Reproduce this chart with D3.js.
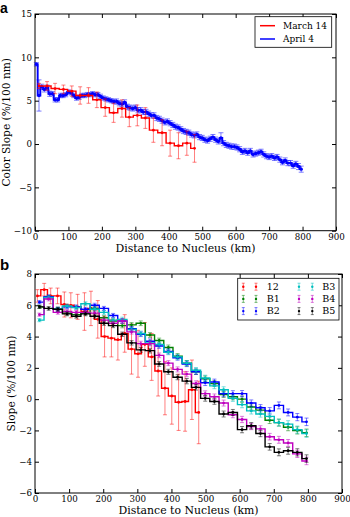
<!DOCTYPE html>
<html>
<head>
<meta charset="utf-8">
<script src="https://cdn.jsdelivr.net/npm/d3@7/dist/d3.min.js"></script>
<style>
  body { margin: 0; background: #fff; }
  svg { display: block; font-family: "DejaVu Serif", serif; }
</style>
</head>
<body>
<div id="fig"></div>
<script>
// ---- panel a : color slope vs distance ----
var marchX = [12, 36, 60, 85, 110, 135, 160, 185, 210, 235, 260, 282, 306, 330, 354, 380, 404, 429, 454, 477];
var marchY = [6.7, 6.7, 6.4, 6.3, 6.1, 5.6, 5.6, 5.1, 4.2, 3.6, 4.1, 3.1, 3.3, 3.0, 1.6, 1.3, 0.1, -0.2, 0.1, -0.5];
var marchErr = [0.3, 0.5, 0.6, 0.5, 0.6, 1.0, 0.9, 0.9, 1.0, 1.1, 1.0, 1.1, 1.2, 1.2, 1.4, 1.5, 1.5, 1.5, 1.4, 1.6];

var aprilX = [4, 12, 20, 28, 36, 44, 52, 60, 68, 76, 84, 92, 100, 108, 116, 124, 132, 140, 148, 156,
  164, 172, 180, 188, 196, 204, 212, 220, 228, 236, 244, 252, 260, 268, 276, 284, 292, 300, 308, 316,
  324, 332, 340, 348, 356, 364, 372, 380, 388, 396, 404, 412, 420, 428, 436, 444, 452, 460, 468, 476,
  484, 492, 500, 508, 516, 524, 532, 540, 548, 556, 564, 572, 580, 588, 596, 604, 612, 620, 628, 636,
  644, 652, 660, 668, 676, 684, 692, 700, 708, 716, 724, 732, 740, 748, 756, 764, 772, 780, 788, 796];
var aprilY = [9.2, 5.6, 6.6, 6.3, 6.5, 5.8, 5.8, 5.1, 5.1, 5.6, 5.6, 5.7, 6.0, 5.9, 5.6, 5.3, 5.4, 5.6, 5.6, 5.7,
  5.7, 5.8, 5.7, 5.7, 5.5, 5.3, 5.2, 5.1, 5.0, 4.9, 4.9, 4.7, 4.6, 4.8, 4.3, 4.2, 4.1, 4.2, 3.9, 3.9,
  3.7, 3.7, 3.5, 3.3, 3.3, 3.0, 2.9, 2.7, 2.5, 2.6, 2.4, 2.2, 2.0, 1.9, 1.7, 1.5, 1.4, 1.3, 1.1, 1.0,
  1.1, 0.8, 0.7, 0.5, 0.4, 0.6, 0.8, 0.5, 0.3, 0.7, 0.1, -0.1, -0.2, -0.3, -0.3, -0.4, -0.6, -0.9, -0.8, -1.0,
  -0.8, -1.2, -1.1, -1.0, -0.9, -1.2, -1.4, -1.5, -1.4, -1.6, -1.5, -1.8, -2.1, -1.9, -2.2, -2.2, -2.5, -2.3, -2.6, -2.9];
var aprilErr = [0.2, 1.8, 0.3, 0.3, 0.3, 0.3, 0.25, 0.25, 0.25, 0.25, 0.25, 0.25, 0.25, 0.25, 0.25, 0.25, 0.25, 0.25, 0.25, 0.25,
  0.25, 0.25, 0.25, 0.25, 0.25, 0.25, 0.25, 0.25, 0.25, 0.25, 0.3, 0.3, 0.3, 0.3, 0.3, 0.3, 0.3, 0.3, 0.3, 0.3,
  0.3, 0.3, 0.3, 0.3, 0.3, 0.3, 0.3, 0.3, 0.3, 0.3, 0.3, 0.3, 0.3, 0.3, 0.3, 0.3, 0.3, 0.3, 0.3, 0.3,
  0.3, 0.3, 0.3, 0.3, 0.3, 0.3, 0.3, 0.3, 0.3, 0.6, 0.3, 0.3, 0.3, 0.3, 0.3, 0.3, 0.3, 0.3, 0.3, 0.3,
  0.3, 0.3, 0.3, 0.3, 0.3, 0.3, 0.3, 0.3, 0.3, 0.3, 0.3, 0.3, 0.3, 0.3, 0.3, 0.3, 0.3, 0.3, 0.35, 0.35];

// ---- panel b : slope per filter ----
var x12 = [7, 27, 46, 66, 86, 105, 125, 145, 164, 184, 204, 224, 243, 263, 283, 302, 322, 342, 361, 381, 401, 421, 440, 460, 480];
var y12 = [6.6, 7.0, 6.6, 6.6, 6.05, 6.0, 5.9, 5.6, 5.8, 5.1, 4.0, 3.9, 3.8, 4.2, 3.2, 2.9, 3.5, 2.7, 1.8, 0.7, 0.2, -0.2, -0.15, 0.6, -0.85];
var e12 = [0.4, 0.4, 0.5, 0.5, 0.8, 0.8, 0.8, 1.2, 1.1, 1.2, 1.3, 1.2, 1.3, 1.2, 1.6, 1.5, 1.4, 1.5, 1.6, 1.7, 1.8, 1.8, 1.9, 1.9, 2.0];

var bX = [13, 40, 67, 94, 121, 148, 175, 202, 229, 256, 283, 310, 337, 364, 391, 418, 445, 472, 499, 526, 553, 580, 607, 634, 661, 688, 715, 742, 769, 796];
var b1 = [5.9, 6.5, 5.75, 5.5, 5.4, 5.5, 5.8, 5.2, 5.0, 4.7, 4.75, 4.85, 4.1, 3.75, 3.3, 2.75, 2.3, 1.75, 1.3, 1.0, 0.3, 0.15, 0.0, -0.5, -0.7, -1.35, -1.5, -1.8, -2.0, -2.15];
var b2 = [6.2, 6.55, 5.75, 5.9, 5.9, 5.75, 6.0, 5.8, 5.35, 5.0, 4.5, 4.15, 3.7, 3.4, 3.05, 2.65, 2.25, 1.75, 1.05, 1.1, 0.35, 0.35, 0.35, -0.25, -0.55, -0.75, -0.4, -0.85, -1.15, -1.45];
var b3 = [5.05, 6.5, 5.75, 5.95, 5.85, 6.1, 5.75, 5.55, 5.05, 5.1, 4.45, 4.2, 3.6, 3.5, 3.0, 2.7, 2.3, 1.85, 1.35, 0.85, 0.6, 0.05, -0.35, -0.75, -0.95, -1.1, -1.5, -1.6, -1.95, -2.2];
var b4 = [5.4, 6.4, 5.55, 5.6, 5.55, 5.55, 5.5, 5.05, 4.85, 5.0, 4.3, 3.55, 3.55, 2.8, 2.3, 1.9, 1.6, 1.0, 0.35, 0.15, -0.25, -1.0, -1.3, -1.75, -1.9, -2.4, -2.6, -2.8, -3.5, -3.95];
var b5 = [5.9, 5.8, 5.75, 5.45, 5.3, 5.45, 5.3, 4.85, 4.7, 4.15, 3.6, 3.15, 3.1, 2.25, 1.75, 1.4, 1.15, 0.75, 0.05, -0.15, -0.95, -0.85, -1.95, -1.7, -2.2, -3.05, -3.4, -3.3, -3.4, -3.8];
var bErr = [0.1, 0.12, 0.12, 0.12, 0.12, 0.12, 0.13, 0.13, 0.13, 0.14, 0.14, 0.15, 0.15, 0.15, 0.16, 0.16, 0.17, 0.17, 0.18, 0.18, 0.19, 0.19, 0.2, 0.2, 0.2, 0.21, 0.22, 0.22, 0.23, 0.24];

var xTicks = [0, 100, 200, 300, 400, 500, 600, 700, 800, 900];
var yTicksA = [-10, -5, 0, 5, 10, 15];
var yTicksB = [-6, -4, -2, 0, 2, 4, 6, 8];

var W = 350, H = 517;
var svg = d3.select('#fig').append('svg').attr('width', W).attr('height', H);

function makePanel(box, yDomain, yTicks, ylabel, ylabelX) {
  var x = d3.scaleLinear().domain([0, 900]).range([box.l, box.r]);
  var y = d3.scaleLinear().domain(yDomain).range([box.b, box.t]);
  var g = svg.append('g');
  var fmt = d3.format('d');

  g.append('g').attr('transform', 'translate(0,' + box.b + ')')
    .call(d3.axisBottom(x).tickValues(xTicks).tickFormat(fmt).tickSizeInner(-4).tickSizeOuter(0).tickPadding(3))
    .call(s => s.select('.domain').remove());
  g.append('g').attr('transform', 'translate(0,' + box.t + ')')
    .call(d3.axisTop(x).tickValues(xTicks).tickFormat('').tickSizeInner(-4).tickSizeOuter(0))
    .call(s => s.select('.domain').remove());
  g.append('g').attr('transform', 'translate(' + box.l + ',0)')
    .call(d3.axisLeft(y).tickValues(yTicks).tickFormat(fmt).tickSizeInner(-4).tickSizeOuter(0).tickPadding(3))
    .call(s => s.select('.domain').remove());
  g.append('g').attr('transform', 'translate(' + box.r + ',0)')
    .call(d3.axisRight(y).tickValues(yTicks).tickFormat('').tickSizeInner(-4).tickSizeOuter(0))
    .call(s => s.select('.domain').remove());
  g.selectAll('.tick text').attr('font-family', '"DejaVu Serif", serif').attr('font-size', 8.7).attr('fill', '#000');
  g.selectAll('.tick line').attr('stroke', '#000');

  g.append('rect').attr('x', box.l).attr('y', box.t)
    .attr('width', box.r - box.l).attr('height', box.b - box.t)
    .attr('fill', 'none').attr('stroke', '#000').attr('stroke-width', 1);

  svg.append('text').attr('x', (box.l + box.r) / 2).attr('y', box.b + 21)
    .attr('text-anchor', 'middle').attr('font-size', 10.9).text('Distance to Nucleus (km)');
  svg.append('text')
    .attr('transform', 'translate(' + ylabelX + ',' + ((box.t + box.b) / 2) + ') rotate(-90)')
    .attr('text-anchor', 'middle').attr('font-size', 10.6).text(ylabel);

  return { x: x, y: y, g: g };
}

function drawSeries(p, xs, ys, es, color, lw, r, cap) {
  var pts = xs.map((d, i) => ({ x: d, y: ys[i], e: es[i] }));
  var g = p.g.append('g');
  var eb = g.append('g').attr('stroke', color).attr('stroke-opacity', 0.5).attr('stroke-width', 1);
  eb.selectAll('line.v').data(pts).join('line').attr('class', 'v')
    .attr('x1', d => p.x(d.x)).attr('x2', d => p.x(d.x))
    .attr('y1', d => p.y(d.y - d.e)).attr('y2', d => p.y(d.y + d.e));
  eb.selectAll('line.c1').data(pts).join('line').attr('class', 'c1')
    .attr('x1', d => p.x(d.x) - cap).attr('x2', d => p.x(d.x) + cap)
    .attr('y1', d => p.y(d.y + d.e)).attr('y2', d => p.y(d.y + d.e));
  eb.selectAll('line.c2').data(pts).join('line').attr('class', 'c2')
    .attr('x1', d => p.x(d.x) - cap).attr('x2', d => p.x(d.x) + cap)
    .attr('y1', d => p.y(d.y - d.e)).attr('y2', d => p.y(d.y - d.e));
  var line = d3.line().x(d => p.x(d.x)).y(d => p.y(d.y)).curve(d3.curveStep);
  g.append('path').datum(pts).attr('d', line)
    .attr('fill', 'none').attr('stroke', color).attr('stroke-width', lw);
  g.selectAll('circle').data(pts).join('circle')
    .attr('cx', d => p.x(d.x)).attr('cy', d => p.y(d.y)).attr('r', r).attr('fill', color);
}

// panel a
var pa = makePanel({ l: 35, r: 336, t: 14, b: 230.7 }, [-10, 15], yTicksA, 'Color Slope (%/100 nm)', 10);
drawSeries(pa, aprilX, aprilY, aprilErr, '#0000ff', 1.9, 1.7, 2.5);
drawSeries(pa, marchX, marchY, marchErr, '#ff0000', 1.4, 1.4, 2);

var la = svg.append('g');
la.append('rect').attr('x', 255).attr('y', 16.7).attr('width', 76.7).attr('height', 30.6)
  .attr('fill', '#fff').attr('stroke', '#000').attr('stroke-width', 0.8);
[['March 14', '#ff0000', 25.7], ['April 4', '#0000ff', 39]].forEach(function (r) {
  la.append('line').attr('x1', 260).attr('x2', 275).attr('y1', r[2]).attr('y2', r[2])
    .attr('stroke', r[1]).attr('stroke-width', 1.5);
  la.append('text').attr('x', 283).attr('y', r[2] + 3.2).attr('font-size', 9).text(r[0]);
});

// panel b
var pb = makePanel({ l: 35, r: 342, t: 274, b: 493 }, [-6, 8], yTicksB, 'Slope (%/100 nm)', 15);
drawSeries(pb, x12, y12, e12, '#ff0000', 1.4, 1.4, 2);
drawSeries(pb, bX, b1, bErr, '#008000', 1.4, 1.4, 2);
drawSeries(pb, bX, b2, bErr, '#0000ff', 1.4, 1.4, 2);
drawSeries(pb, bX, b3, bErr, '#00bfbf', 1.4, 1.4, 2);
drawSeries(pb, bX, b4, bErr, '#bf00bf', 1.4, 1.4, 2);
drawSeries(pb, bX, b5, bErr, '#000000', 1.4, 1.4, 2);

var legNames = ['12', 'B1', 'B2', 'B3', 'B4', 'B5'];
var legColors = ['#ff0000', '#008000', '#0000ff', '#00bfbf', '#bf00bf', '#000000'];
var lb = svg.append('g');
lb.append('rect').attr('x', 237.7).attr('y', 278.3).attr('width', 101.3).attr('height', 41.7)
  .attr('fill', '#fff').attr('stroke', '#000').attr('stroke-width', 0.8);
legNames.forEach(function (name, i) {
  var col = Math.floor(i / 3), row = i % 3;
  var cy = 286.7 + row * 12.2;
  var xs = col === 0 ? [243.3, 256] : [299, 312.3];
  var tx = col === 0 ? 266.7 : 322.3;
  xs.forEach(function (sx) {
    lb.append('line').attr('x1', sx).attr('x2', sx).attr('y1', cy - 3.5).attr('y2', cy + 3.5)
      .attr('stroke', legColors[i]).attr('stroke-opacity', 0.5);
    lb.append('line').attr('x1', sx - 1.5).attr('x2', sx + 1.5).attr('y1', cy - 3.5).attr('y2', cy - 3.5)
      .attr('stroke', legColors[i]).attr('stroke-opacity', 0.5);
    lb.append('line').attr('x1', sx - 1.5).attr('x2', sx + 1.5).attr('y1', cy + 3.5).attr('y2', cy + 3.5)
      .attr('stroke', legColors[i]).attr('stroke-opacity', 0.5);
    lb.append('circle').attr('cx', sx).attr('cy', cy).attr('r', 1.2).attr('fill', legColors[i]);
  });
  lb.append('text').attr('x', tx).attr('y', cy + 3.3).attr('font-size', 9.5).text(name);
});

// panel letters
svg.append('text').attr('x', 0).attr('y', 13).attr('font-family', '"Liberation Sans", Arial, sans-serif')
  .attr('font-weight', 'bold').attr('font-size', 14).text('a');
svg.append('text').attr('x', 0).attr('y', 270).attr('font-family', '"Liberation Sans", Arial, sans-serif')
  .attr('font-weight', 'bold').attr('font-size', 15).text('b');
</script>
</body>
</html>
